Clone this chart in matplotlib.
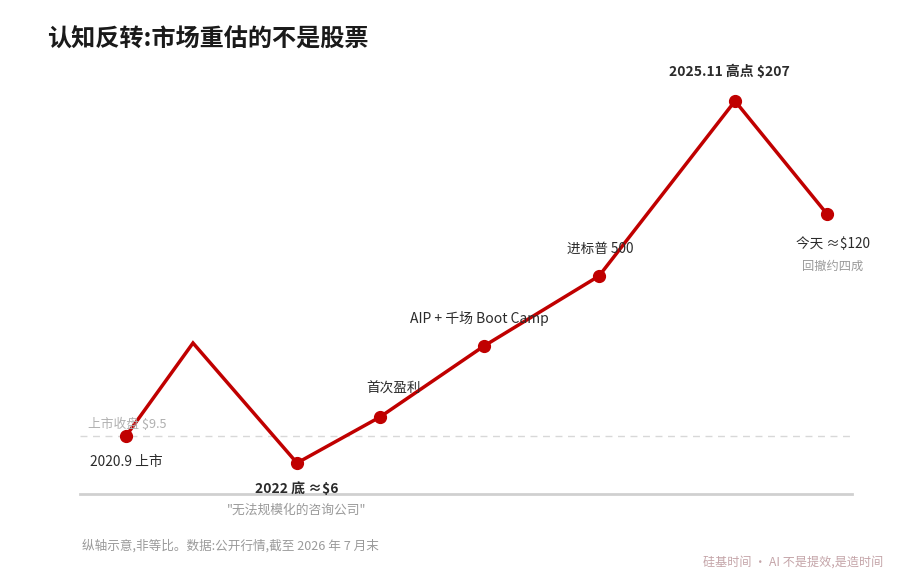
import matplotlib.pyplot as plt

plt.rcParams['font.family'] = ['Noto Sans CJK SC', 'DejaVu Sans']

# schematic positions (not to scale)
x_pos = [46, 113, 217, 300, 404, 519, 655, 747]
y_lvl = [58, 151, 31, 77, 148, 218, 393, 280]
has_marker = [True, False, True, True, True, True, True, True]
ipo_level = 58

RED = '#c00000'
DARK = '#2b2b2b'
GRAY = '#9a9a9a'

fig = plt.figure(figsize=(9, 5.77), dpi=100)
ax = fig.add_axes([80 / 900, 83 / 577, 772 / 900, 420 / 577])
ax.set_xlim(0, 772)
ax.set_ylim(0, 420)
ax.axis('off')

ax.axhline(0, color='#d0d0d0', lw=2, clip_on=False)
ax.axhline(ipo_level, color='#d8d8d8', lw=1, ls=(0, (5, 4)))

ax.plot(x_pos, y_lvl, color=RED, lw=2.5, solid_joinstyle='miter', zorder=3)
mx = [x for x, m in zip(x_pos, has_marker) if m]
my = [y for y, m in zip(y_lvl, has_marker) if m]
ax.plot(mx, my, 'o', color=RED, ms=8.5, zorder=4)


def note(i, dx, dy, text, **kw):
    # offsets given in pixels
    ax.annotate(text, (x_pos[i], y_lvl[i]), xytext=(dx * 0.72, dy * 0.72),
                textcoords='offset points', va='center', **kw)


ax.annotate('上市收盘 $9.5', (0, ipo_level), xytext=(8 * 0.72, 12 * 0.72),
            textcoords='offset points', va='center', ha='left',
            fontsize=9.2, color='#b0b0b0')
note(0, -36, -26, '2020.9 上市', ha='left', fontsize=9.9, color=DARK)
note(2, 0, -26, '2022 底 ≈$6', ha='center', fontsize=10, color=DARK,
     fontweight='bold')
note(2, 0, -47, '"无法规模化的咨询公司"', ha='center', fontsize=9.2, color=GRAY)
note(3, 14, 28, '首次盈利', ha='center', fontsize=9.8, color=DARK)
note(4, -5, 28, 'AIP + 千场 Boot Camp', ha='center', fontsize=10, color=DARK)
note(5, 1, 27, '进标普 500', ha='center', fontsize=9.8, color=DARK)
note(6, -6, 29, '2025.11 高点 $207', ha='center', fontsize=10, color=DARK,
     fontweight='bold')
note(7, 6, -30, '今天 ≈$120', ha='center', fontsize=9.8, color=DARK)
note(7, 6, -52, '回撤约四成', ha='center', fontsize=8.8, color=GRAY)

fig.text(47 / 900, 1 - 40 / 577, '认知反转:市场重估的不是股票', fontsize=17.4,
         fontweight='bold', color='#1a1a1a', va='center', ha='left')
fig.text(82 / 900, 1 - 546 / 577, '纵轴示意,非等比。数据:公开行情,截至 2026 年 7 月末',
         fontsize=9.1, color=GRAY, va='center', ha='left')
fig.text(883 / 900, 1 - 562 / 577, '硅基时间 · AI 不是提效,是造时间',
         fontsize=8.7, color='#c4a4a8', va='center', ha='right')

fig.savefig('out.png', dpi=100)
